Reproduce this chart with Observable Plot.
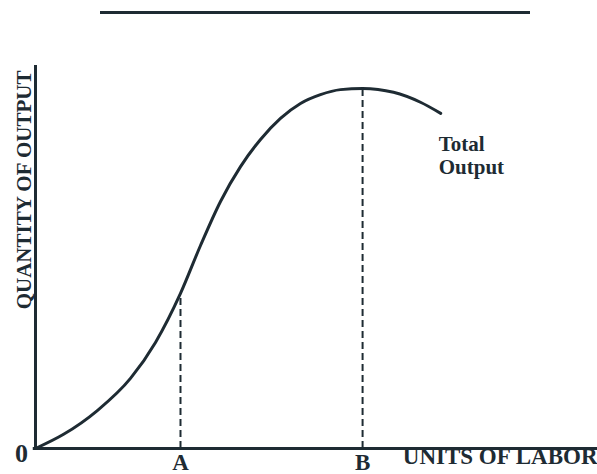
<!DOCTYPE html>
<html>
<head>
<meta charset="utf-8">
<script src="https://cdn.jsdelivr.net/npm/d3@7"></script>
<script src="https://cdn.jsdelivr.net/npm/@observablehq/plot@0.6"></script>
<style>
  html, body { margin: 0; padding: 0; background: #fff; }
  #wrap { position: relative; width: 597px; height: 474px; overflow: hidden; }
  #topline { position: absolute; left: 100px; top: 11px; width: 430px; height: 3px; background: #1e2b33; }
  svg { display: block; }
</style>
</head>
<body>
<div id="wrap"><div id="topline"></div></div>
<script>
// Units of labor (x) and total output (y)
const labor  = [0, 5.0, 11.0, 16.9, 21.35, 25.8, 29.36, 32.92, 36.48, 40.04, 43.59, 47.15, 50.71, 54.27, 58.2, 63.7, 68.5, 72.1];
const output = [0, 3.7, 9.9, 18.3, 27.7, 40.5, 53.0, 64.5, 73.6, 80.7, 86.2, 90.1, 92.4, 93.7, 94.0, 93.0, 90.4, 87.5];

// Marked points on the labor axis
const markerLabels = ["A", "B"];
const markerLabor  = [25.8, 58.2];
const markerOutput = [40.5, 94.0];

const curveName = "Total\nOutput";
const xTitle = "UNITS OF LABOR";
const yTitle = "QUANTITY OF OUTPUT";
const originLabel = "0";

const curve = labor.map((x, i) => ({x, y: output[i]}));
const markers = markerLabels.map((label, i) => ({label, x: markerLabor[i], y: markerOutput[i]}));
const last = curve[curve.length - 1];

const ink = "#1e2b33";
const font = "'Liberation Serif', 'Times New Roman', serif";

const chart = Plot.plot({
  width: 597,
  height: 474,
  marginLeft: 35,
  marginRight: 0,
  marginTop: 65,
  marginBottom: 26,
  x: {domain: [0, 100], axis: null},
  y: {domain: [0, 100], axis: null},
  style: {fontFamily: font, background: "transparent", color: ink},
  marks: [
    Plot.ruleY([0], {x1: -0.4, x2: 100, stroke: ink, strokeWidth: 3}),
    Plot.ruleX([0], {y1: -0.3, y2: 100, stroke: ink, strokeWidth: 3}),
    Plot.ruleX(markers, {x: "x", y1: 0, y2: "y", stroke: ink, strokeWidth: 2, strokeDasharray: "7,4"}),
    Plot.line(curve, {x: "x", y: "y", curve: "monotone-x", stroke: ink, strokeWidth: 3}),
    Plot.text(markers, {x: "x", y: 0, text: "label", dy: 14, fontSize: 23, fontWeight: "bold", fill: ink}),
    Plot.text([originLabel], {x: 0, y: 0, text: d => d, dx: -14, dy: 5, fontSize: 26, fontWeight: "bold", fill: ink}),
    Plot.text([xTitle], {frameAnchor: "bottom-right", text: d => d, textAnchor: "end", dy: 15, fontSize: 23, fontWeight: "bold", fill: ink}),
    Plot.text([yTitle], {frameAnchor: "top-left", text: d => d, rotate: -90, textAnchor: "end", dx: -19, dy: 5, fontSize: 21, fontWeight: "bold", fill: ink}),
    Plot.text([last], {x: "x", y: "y", text: () => curveName, textAnchor: "start", lineAnchor: "top", lineHeight: 1.1, dx: -2, dy: 21, fontSize: 21, fontWeight: "bold", fill: ink})
  ]
});
document.getElementById("wrap").appendChild(chart);
</script>
</body>
</html>
